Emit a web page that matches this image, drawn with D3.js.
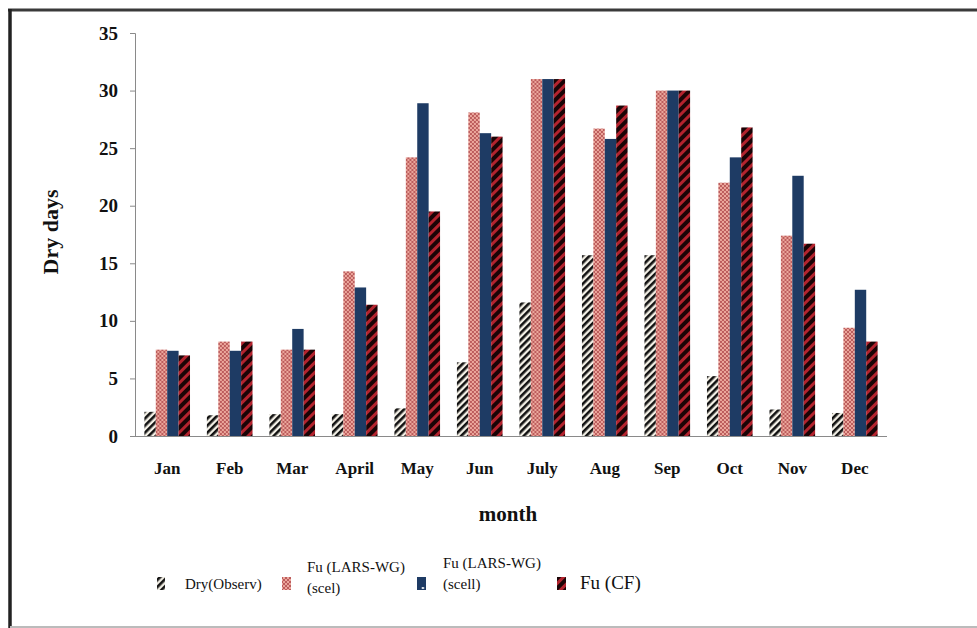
<!DOCTYPE html>
<html>
<head>
<meta charset="utf-8">
<script src="https://cdn.jsdelivr.net/npm/d3@7"></script>
<style>
  html, body { margin: 0; padding: 0; background: #fff; overflow: hidden; }
  svg { display: block; }
  text { font-family: "Liberation Serif", "Times New Roman", serif; }
</style>
</head>
<body>
<script>
const months = ['Jan', 'Feb', 'Mar', 'April', 'May', 'Jun', 'July', 'Aug', 'Sep', 'Oct', 'Nov', 'Dec'];
const series = ['obs', 'scel', 'scell', 'cf'];
const dryObserv = [2.1, 1.8, 1.9, 1.9, 2.4, 6.4, 11.6, 15.7, 15.7, 5.2, 2.3, 2.0];
const fuScel    = [7.5, 8.2, 7.5, 14.3, 24.2, 28.1, 31, 26.7, 30, 22.0, 17.4, 9.4];
const fuScell   = [7.4, 7.4, 9.3, 12.9, 28.9, 26.3, 31, 25.8, 30, 24.2, 22.6, 12.7];
const fuCF      = [7.0, 8.2, 7.5, 11.4, 19.5, 26.0, 31, 28.7, 30, 26.8, 16.7, 8.2];
const yTicks = [0, 5, 10, 15, 20, 25, 30, 35];
const legendLabels = [['Dry(Observ)'], ['Fu (LARS-WG)', '(scel)'], ['Fu (LARS-WG)', '(scell)'], ['Fu (CF)']];

const width = 977, height = 628;
const margin = {top: 33, bottom: 192, left: 135, right: 90};
const innerHeight = height - margin.top - margin.bottom;

const svg = d3.select('body').append('svg').attr('width', width).attr('height', height);
const defs = svg.append('defs');

//scales
const x0 = d3.scaleBand().domain(months).range([margin.left, width - margin.right])
             .paddingInner(0.27).paddingOuter(0.15);
const x1 = d3.scaleBand().domain(series).range([0, x0.bandwidth()]);
const y = d3.scaleLinear().domain([0, 35]).range([margin.top + innerHeight, margin.top]);

//patterns
const pObs = defs.append('pattern').attr('id', 'p-obs').attr('patternUnits', 'userSpaceOnUse')
    .attr('width', 5).attr('height', 5).attr('patternTransform', 'rotate(45)');
pObs.append('rect').attr('width', 5).attr('height', 5).attr('fill', '#f3f0e6');
pObs.append('rect').attr('width', 2.6).attr('height', 5).attr('fill', '#111');

const pScel = defs.append('pattern').attr('id', 'p-scel').attr('patternUnits', 'userSpaceOnUse')
    .attr('width', 4).attr('height', 4);
pScel.append('rect').attr('width', 4).attr('height', 4).attr('fill', '#eba69b');
pScel.append('path').attr('d', 'M0,0L4,4M4,0L0,4').attr('stroke', '#b04a4c').attr('stroke-width', 0.8);

const step = x0.step();
const pScell = defs.append('pattern').attr('id', 'p-scell').attr('patternUnits', 'userSpaceOnUse')
    .attr('x', 0).attr('y', y(0)).attr('width', step).attr('height', 16);
pScell.append('rect').attr('width', step).attr('height', 16).attr('fill', '#1e3b64');
const dotX = (x0(months[0]) + x1('scell') + x1.bandwidth() / 2) % step;
pScell.append('rect').attr('x', dotX - 1).attr('y', 7).attr('width', 2).attr('height', 2).attr('fill', '#fff');

const pCF = defs.append('pattern').attr('id', 'p-cf').attr('patternUnits', 'userSpaceOnUse')
    .attr('width', 7).attr('height', 7).attr('patternTransform', 'rotate(45)');
pCF.append('rect').attr('width', 7).attr('height', 7).attr('fill', '#1a0406');
pCF.append('rect').attr('width', 3).attr('height', 7).attr('fill', '#b3232e');

const fills = {obs: 'url(#p-obs)', scel: 'url(#p-scel)', scell: 'url(#p-scell)', cf: 'url(#p-cf)'};
const values = {obs: dryObserv, scel: fuScel, scell: fuScell, cf: fuCF};

//frame
svg.append('line').attr('x1', 8).attr('x2', width).attr('y1', 10).attr('y2', 10)
   .attr('stroke', '#3a3a3a').attr('stroke-width', 3);
svg.append('line').attr('x1', 10).attr('x2', 10).attr('y1', 9).attr('y2', height)
   .attr('stroke', '#222').attr('stroke-width', 3.5);
svg.append('line').attr('x1', 10).attr('x2', width).attr('y1', 627).attr('y2', 627)
   .attr('stroke', '#bbb').attr('stroke-width', 2);

//bars
const groups = svg.append('g').selectAll('g').data(months).join('g')
    .attr('transform', d => `translate(${x0(d)},0)`);
groups.selectAll('rect')
    .data((m, i) => series.map(s => ({key: s, value: values[s][i]})))
    .join('rect')
    .attr('x', d => x1(d.key))
    .attr('y', d => y(d.value))
    .attr('width', x1.bandwidth())
    .attr('height', d => y(0) - y(d.value))
    .attr('fill', d => fills[d.key]);

//axes
const yAxis = svg.append('g').attr('transform', `translate(${margin.left},0)`)
    .call(d3.axisLeft(y).tickValues(yTicks).tickSize(5).tickPadding(12))
    .attr('fill', null).attr('font-family', null).attr('font-size', 19).attr('font-weight', 'bold');
yAxis.select('.domain').attr('fill', 'none');
yAxis.selectAll('path, line').attr('stroke', '#8a8a8a');
yAxis.selectAll('text').attr('fill', '#111');

const xAxis = svg.append('g').attr('transform', `translate(0,${y(0)})`)
    .call(d3.axisBottom(x0).tickSize(0).tickPadding(29).tickSizeOuter(0))
    .attr('fill', null).attr('font-family', null).attr('font-size', 17).attr('font-weight', 'bold');
xAxis.select('.domain').attr('fill', 'none').attr('stroke', '#8a8a8a')
     .attr('d', `M${margin.left},0.5H${x0.range()[1]}`);
xAxis.selectAll('text').attr('fill', '#111').attr('dy', '0.5em');

//axis titles
svg.append('text').attr('transform', 'translate(58,232) rotate(-90)').attr('text-anchor', 'middle')
   .attr('font-size', 22).attr('font-weight', 'bold').attr('fill', '#111').text('Dry  days');
svg.append('text').attr('x', 508).attr('y', 521).attr('text-anchor', 'middle')
   .attr('font-size', 21).attr('font-weight', 'bold').attr('fill', '#111').text('month');

//legend
const legendX = [157, 282, 417, 557];
const legendTextX = [185, 307, 443, 580];
const legend = svg.append('g').selectAll('g').data(series).join('g');
legend.append('rect')
    .attr('x', (d, i) => legendX[i]).attr('y', 577)
    .attr('width', (d, i) => i === 0 ? 8 : 9).attr('height', 13)
    .attr('fill', d => fills[d]);
legend.each(function(d, i) {
  const lines = legendLabels[i];
  const t = d3.select(this).append('text').attr('x', legendTextX[i])
      .attr('font-size', i === 3 ? 19 : 15).attr('fill', '#111');
  const y0 = lines.length === 1 ? 589 : (i === 1 ? 572 : 568);
  lines.forEach((l, j) => t.append('tspan').attr('x', legendTextX[i]).attr('y', y0 + j * 21).text(l));
});
</script>
</body>
</html>
